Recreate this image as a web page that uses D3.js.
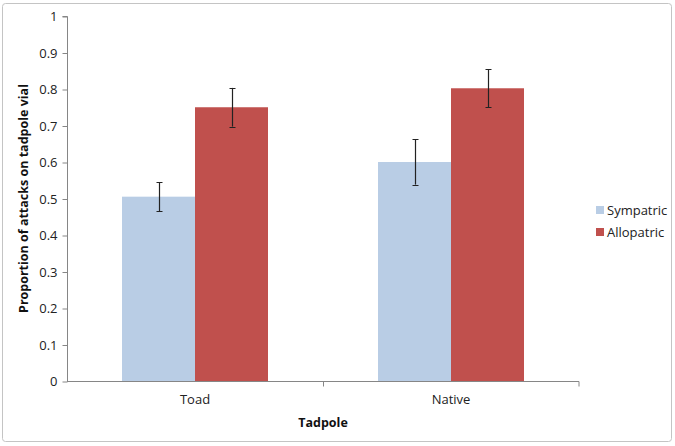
<!DOCTYPE html>
<html><head><meta charset="utf-8">
<script src="https://cdn.jsdelivr.net/npm/d3@7"></script>
<style>body{margin:0;background:#fff}svg{display:block;font-family:"Open Sans","Liberation Sans",sans-serif}</style>
</head><body><svg id="c" width="675" height="446"></svg>
<script>
const categories = ["Toad", "Native"];
const seriesNames = ["Sympatric", "Allopatric"];
const sympatricValues = [0.505, 0.600];
const allopatricValues = [0.750, 0.802];
const sympatricErrors = [0.040, 0.062];
const allopatricErrors = [0.053, 0.052];
const yTicks = [0, 0.1, 0.2, 0.3, 0.4, 0.5, 0.6, 0.7, 0.8, 0.9, 1];
const colors = ["#B9CDE5", "#C0504D"];

(function(){
const svg = d3.select("#c");
svg.append("rect").attr("x",2.5).attr("y",3.5).attr("width",669).attr("height",438)
  .attr("rx",3).attr("fill","#fff").attr("stroke","#c4c4c4");

const mL = 67, mR = 579, mT = 16, mB = 381;
const x = d3.scaleBand().domain(categories).range([mL, mR]).paddingInner(0).paddingOuter(0);
const barW = 73;
const y = d3.scaleLinear().domain([0,1]).range([mB, mT]);

const data = categories.map((c,i)=>[
  {cat:c, s:seriesNames[0], v:sympatricValues[i], e:sympatricErrors[i], col:colors[0]},
  {cat:c, s:seriesNames[1], v:allopatricValues[i], e:allopatricErrors[i], col:colors[1]}
]).flat();

const sub = d3.scaleBand().domain(seriesNames).range([-barW, barW]);

const g = svg.append("g");
g.selectAll("rect.bar").data(data).join("rect").attr("class","bar")
  .attr("x", d => x(d.cat) + x.bandwidth()/2 + sub(d.s))
  .attr("width", sub.bandwidth())
  .attr("y", d => y(d.v)).attr("height", d => y(0)-y(d.v))
  .attr("fill", d => d.col);

const eb = g.selectAll("g.err").data(data).join("g").attr("class","err")
  .attr("transform", d => `translate(${Math.round(x(d.cat) + x.bandwidth()/2 + sub(d.s) + sub.bandwidth()/2)+0.5},0)`);
eb.append("line").attr("y1", d=>y(d.v+d.e)).attr("y2", d=>y(d.v-d.e)).attr("stroke","#222").attr("stroke-width",1.2);
eb.append("line").attr("x1",-3).attr("x2",3).attr("y1", d=>Math.round(y(d.v+d.e))+0.5).attr("y2", d=>Math.round(y(d.v+d.e))+0.5).attr("stroke","#222");
eb.append("line").attr("x1",-3).attr("x2",3).attr("y1", d=>Math.round(y(d.v-d.e))+0.5).attr("y2", d=>Math.round(y(d.v-d.e))+0.5).attr("stroke","#222");

const yAxis = svg.append("g").attr("transform",`translate(${mL+0.5},0.5)`)
  .call(d3.axisLeft(y).tickValues(yTicks).tickSize(5).tickPadding(5).tickFormat(d => d3.format("")(d)));
yAxis.select(".domain").attr("stroke","#868686").attr("d",`M-5,${mT}H0V${mB}`);
yAxis.selectAll(".tick line").attr("stroke","#868686");
yAxis.selectAll(".tick text").attr("fill","#222").style("font-size","13px").style("font-family","'Open Sans','Liberation Sans',sans-serif");

const xAxis = svg.append("g").attr("transform",`translate(0,${mB+0.5})`)
  .call(d3.axisBottom(x).tickSize(0).tickPadding(13));
xAxis.select(".domain").attr("stroke","#868686").attr("d",`M${mL},0H${mR}V5`);
xAxis.selectAll(".tick text").attr("fill","#222").style("font-size","13px").style("font-family","'Open Sans','Liberation Sans',sans-serif");
xAxis.selectAll(".sep").data(categories.slice(1)).join("line").attr("class","sep")
  .attr("x1", d=>Math.round(x(d))+0.5).attr("x2", d=>Math.round(x(d))+0.5).attr("y1",0).attr("y2",5).attr("stroke","#868686");

svg.append("text").attr("x", (mL+mR)/2).attr("y", 427).attr("text-anchor","middle")
  .style("font-size","12.5px").style("font-weight","bold").attr("fill","#111").text("Tadpole");
svg.append("text").attr("transform",`translate(28,${(mT+mB)/2}) rotate(-90)`).attr("text-anchor","middle")
  .style("font-size","12.5px").style("font-weight","bold").attr("fill","#111").text("Proportion of attacks on tadpole vial");

const lg = svg.append("g").selectAll("g").data(seriesNames).join("g")
  .attr("transform",(d,i)=>`translate(596,${206+i*22})`);
lg.append("rect").attr("width",8).attr("height",8).attr("fill",(d,i)=>colors[i]);
lg.append("text").attr("x",11).attr("y",8.5).style("font-size","13px").attr("fill","#222").text(d=>d);
})();
</script></body></html>
